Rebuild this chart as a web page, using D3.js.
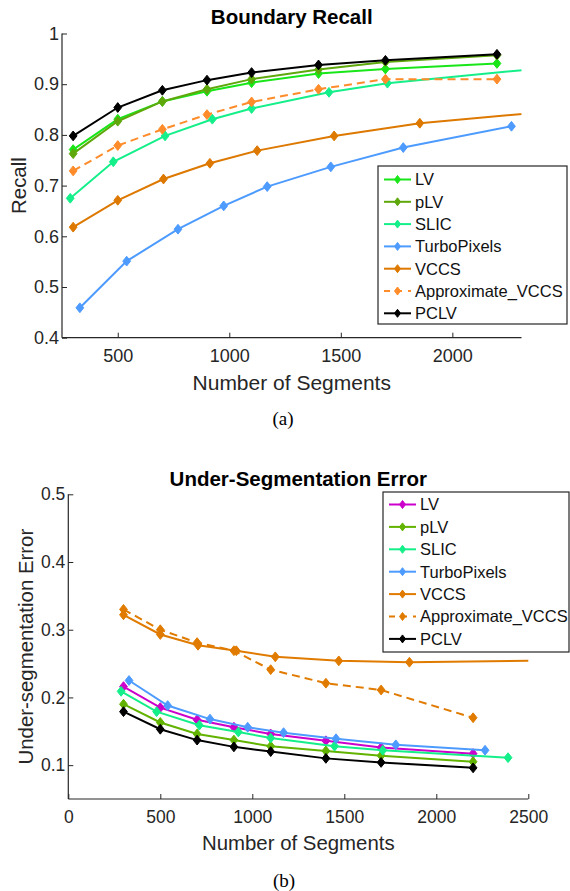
<!DOCTYPE html>
<html>
<head>
<meta charset="utf-8">
<script src="https://cdn.jsdelivr.net/npm/d3@7"></script>
<style>
  body { margin: 0; background: #fff; }
  svg { font-family: "Liberation Sans", Arial, sans-serif; }
</style>
</head>
<body>
<svg id="chart" width="570" height="891"></svg>
<script>
// series names, same order in both panels
var names = ["LV", "pLV", "SLIC", "TurboPixels", "VCCS", "Approximate_VCCS", "PCLV"];

// x positions (number of segments) per method
var xLV = [300, 500, 700, 900, 1100, 1400, 1700, 2200];
var xSLIC = [287, 480, 712, 924, 1100, 1447, 1709, 2390];
var xTurbo = [330, 540, 770, 975, 1170, 1455, 1780, 2265];
var xVCCS = [300, 500, 705, 913, 1125, 1470, 1854, 2600];

// (a) boundary recall
var recallLV = [0.771, 0.831, 0.866, 0.886, 0.903, 0.921, 0.930, 0.941];
var recallPLV = [0.763, 0.827, 0.866, 0.890, 0.910, 0.929, 0.944, 0.957];
var recallSLIC = [0.675, 0.747, 0.798, 0.831, 0.852, 0.884, 0.902, 0.931];
var recallTurbo = [0.459, 0.551, 0.614, 0.660, 0.698, 0.737, 0.775, 0.817];
var recallVCCS = [0.618, 0.671, 0.713, 0.744, 0.769, 0.798, 0.823, 0.853];
var recallApprox = [0.729, 0.779, 0.811, 0.840, 0.865, 0.890, 0.910, 0.910];
var recallPCLV = [0.798, 0.854, 0.888, 0.908, 0.923, 0.938, 0.947, 0.959];

// (b) under-segmentation error
var useLV = [0.216, 0.185, 0.167, 0.156, 0.146, 0.136, 0.126, 0.117];
var usePLV = [0.190, 0.163, 0.146, 0.137, 0.128, 0.121, 0.114, 0.105];
var useSLIC = [0.209, 0.179, 0.159, 0.149, 0.140, 0.128, 0.122, 0.111];
var useTurbo = [0.225, 0.188, 0.168, 0.156, 0.148, 0.139, 0.130, 0.122];
var useVCCS = [0.322, 0.293, 0.277, 0.269, 0.260, 0.254, 0.252, 0.2543];
var useApprox = [0.330, 0.300, 0.281, 0.269, 0.241, 0.221, 0.211, 0.170];
var usePCLV = [0.179, 0.153, 0.137, 0.127, 0.120, 0.110, 0.104, 0.096];

// tick labels
var ticksXa = [500, 1000, 1500, 2000];
var ticksYa = [0.4, 0.5, 0.6, 0.7, 0.8, 0.9, 1];
var ticksXb = [0, 500, 1000, 1500, 2000, 2500];
var ticksYb = [0.1, 0.2, 0.3, 0.4, 0.5];

var colorsA = ["#19e619", "#5ea80c", "#14ef8a", "#4d9bff", "#dd7800", "#ff8c2a", "#000000"];
var colorsB = ["#cc00cc", "#62b300", "#14ef8a", "#4d9bff", "#e07b00", "#e07b00", "#000000"];

var svg = d3.select("#chart");

function diamond(w, h) {
  return "M0," + (-h) + "L" + w + ",0L0," + h + "L" + (-w) + ",0Z";
}

function Panel(svg, cfg) {
  var g = svg.append("g");
  var x = d3.scaleLinear().domain(cfg.xDomain).range(cfg.xRange);
  var y = d3.scaleLinear().domain(cfg.yDomain).range(cfg.yRange);

  g.append("clipPath").attr("id", cfg.id + "-clip")
    .append("rect")
    .attr("x", cfg.xRange[0]).attr("y", cfg.yRange[1] - 6)
    .attr("width", cfg.xRange[1] - cfg.xRange[0])
    .attr("height", cfg.yRange[0] - cfg.yRange[1] + 6);

  // axes, MATLAB style: ticks pointing inward
  var xAxis = g.append("g")
    .attr("transform", `translate(0, ${cfg.yRange[0]})`)
    .call(d3.axisTop(x).tickValues(cfg.xTicks).tickSize(5).tickFormat(d3.format("d")));
  xAxis.selectAll("text").attr("y", 12).attr("dy", "0.71em");
  var yAxis = g.append("g")
    .attr("transform", `translate(${cfg.xRange[0]}, 0)`)
    .call(d3.axisRight(y).tickValues(cfg.yTicks).tickSize(5).tickFormat(d3.format("")));
  yAxis.selectAll("text").attr("x", -3).attr("text-anchor", "end");
  [xAxis, yAxis].forEach(function(a) {
    a.select(".domain").attr("stroke", "#262626").attr("stroke-width", 1.2)
      .attr("d", a === xAxis
        ? `M${cfg.xRange[0]},0H${cfg.xRange[1]}`
        : `M0,${cfg.yRange[0]}V${cfg.yRange[1]}`);
    a.selectAll(".tick line").attr("stroke", "#262626");
    a.selectAll("text").attr("fill", "#262626").style("font-size", cfg.tickFont);
  });

  var plot = g.append("g").attr("clip-path", `url(#${cfg.id}-clip)`);
  var line = d3.line().x(function(d) { return x(d[0]); }).y(function(d) { return y(d[1]); });

  cfg.series.forEach(function(s, i) {
    var pts = s.x.map(function(v, k) { return [v, s.y[k]]; });
    var sg = plot.append("g");
    sg.append("path").datum(pts)
      .attr("d", line)
      .attr("fill", "none")
      .attr("stroke", cfg.colors[i])
      .attr("stroke-width", 2)
      .attr("stroke-dasharray", s.dashed ? "8,5" : null);
    sg.selectAll("path.m").data(pts).enter().append("path")
      .attr("class", "m")
      .attr("transform", function(d) { return `translate(${x(d[0])}, ${y(d[1])})`; })
      .attr("d", diamond(3.9, 4.9))
      .attr("fill", cfg.colors[i])
      .attr("stroke", cfg.colors[i])
      .attr("stroke-width", 1);
  });

  // title and labels
  var cx = (cfg.xRange[0] + cfg.xRange[1]) / 2;
  g.append("text").attr("x", cx).attr("y", cfg.titleY)
    .attr("text-anchor", "middle").style("font-size", "20.5px").style("font-weight", "bold")
    .text(cfg.title);
  g.append("text").attr("x", cx).attr("y", cfg.xLabelY)
    .attr("text-anchor", "middle").style("font-size", cfg.labelFont).attr("fill", "#262626")
    .text("Number of Segments");
  g.append("text")
    .attr("transform", `translate(${cfg.yLabelX}, ${(cfg.yRange[0] + cfg.yRange[1]) / 2}) rotate(-90)`)
    .attr("text-anchor", "middle").style("font-size", "20.4px").attr("fill", "#262626")
    .text(cfg.yLabel);
  g.append("text").attr("x", cfg.capX).attr("y", cfg.capY)
    .attr("text-anchor", "middle")
    .style("font-family", "'Liberation Serif', 'DejaVu Serif', serif").style("font-size", "19px")
    .text(cfg.caption);

  // legend
  var lg = g.append("g");
  lg.append("rect")
    .attr("x", cfg.legend.x).attr("y", cfg.legend.y)
    .attr("width", cfg.legend.w).attr("height", cfg.legend.h)
    .attr("fill", "#fff").attr("stroke", "#262626").attr("stroke-width", 1.2);
  names.forEach(function(n, i) {
    var ry = cfg.legend.row0 + i * cfg.legend.step;
    var lx = cfg.legend.x + 6;
    var dashed = cfg.series[i].dashed;
    lg.append("line")
      .attr("x1", lx).attr("x2", lx + 27).attr("y1", ry).attr("y2", ry)
      .attr("stroke", cfg.colors[i]).attr("stroke-width", 2)
      .attr("stroke-dasharray", dashed ? "6,6" : null);
    lg.append("path")
      .attr("transform", `translate(${lx + 13.5}, ${ry})`)
      .attr("d", diamond(3, 4))
      .attr("fill", cfg.colors[i]).attr("stroke", cfg.colors[i]);
    lg.append("text")
      .attr("x", lx + 31).attr("y", ry).attr("dy", "0.36em")
      .style("font-size", "16.5px").attr("fill", "#111")
      .text(n);
  });
}

function seriesOf(a, b, c, d, e, f, h) {
  return [
    { x: xLV, y: a }, { x: xLV, y: b }, { x: xSLIC, y: c }, { x: xTurbo, y: d },
    { x: xVCCS, y: e }, { x: xLV, y: f, dashed: true }, { x: xLV, y: h }
  ];
}

new Panel(svg, {
  id: "pa",
  xDomain: [250, 2310], xRange: [62, 521.5],
  yDomain: [0.4, 1], yRange: [337.7, 33.5],
  xTicks: ticksXa, yTicks: ticksYa,
  tickFont: "18px", labelFont: "21px",
  series: seriesOf(recallLV, recallPLV, recallSLIC, recallTurbo, recallVCCS, recallApprox, recallPCLV),
  colors: colorsA,
  title: "Boundary Recall", titleY: 24,
  xLabelY: 390, yLabel: "Recall", yLabelX: 26,
  caption: "(a)", capX: 283, capY: 425,
  legend: { x: 378, y: 166, w: 189, h: 158, row0: 179.5, step: 22.3 }
});

new Panel(svg, {
  id: "pb",
  xDomain: [0, 2500], xRange: [68.3, 528.3],
  yDomain: [0.05, 0.5], yRange: [799, 494.3],
  xTicks: ticksXb, yTicks: ticksYb,
  tickFont: "17.5px", labelFont: "20.4px",
  series: seriesOf(useLV, usePLV, useSLIC, useTurbo, useVCCS, useApprox, usePCLV),
  colors: colorsB,
  title: "Under-Segmentation Error", titleY: 486,
  xLabelY: 850, yLabel: "Under-segmentation Error", yLabelX: 33,
  caption: "(b)", capX: 284, capY: 887,
  legend: { x: 383, y: 492, w: 186, h: 160, row0: 504.5, step: 22.4 }
});
</script>
</body>
</html>
